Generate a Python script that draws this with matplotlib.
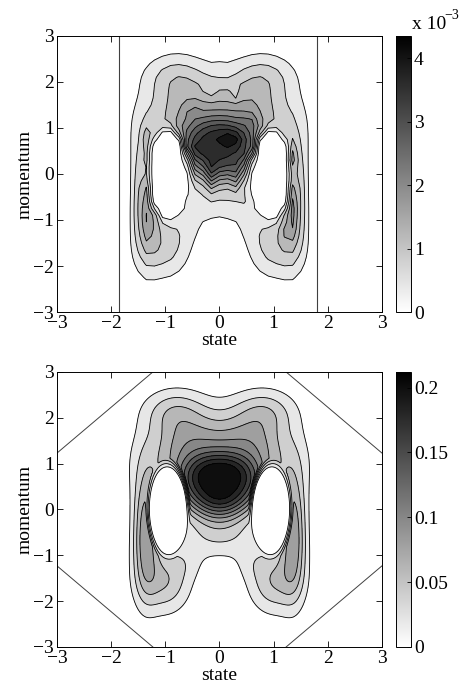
import numpy as np
import matplotlib.pyplot as plt
from matplotlib import cm, colors as mcolors

plt.rcParams['font.family'] = ['Liberation Serif', 'DejaVu Serif']
plt.rcParams['font.size'] = 14

# --- smooth density (lower panel): bumps ---
#          core  bodyL bodyR broad lobeL lobeR lower  armL   armR  footL footR band  kneeL kneeR
bump_x = [0.0, -0.55, 0.55, 0.0, -0.85, 0.85, 0.0, -1.37, 1.37, -1.02, 1.02, 0.0, -0.55, 0.55]
bump_y = [0.55, 1.3, 1.3, 1.0, 2.15, 2.15, -0.1, -0.45, -0.45, -1.55, -1.55, -0.78, -1.2, -1.2]
bump_sx = [0.6, 0.5, 0.5, 1.1, 0.4, 0.4, 0.45, 0.16, 0.16, 0.34, 0.34, 0.7, 0.2, 0.2]
bump_sy = [0.5, 0.6, 0.6, 0.6, 0.35, 0.35, 0.4, 0.9, 0.9, 0.5, 0.5, 0.27, 0.25, 0.25]
bump_w = [0.145, 0.072, 0.072, 0.03, 0.04, 0.04, 0.062, 0.09, 0.09, 0.06, 0.06, 0.02, 0.012, 0.012]
bump_p = [3, 2, 2, 2, 2, 2, 2, 2, 2, 2, 2, 2, 2, 2]

# white holes around the two wells
hole_x = [-0.95, 0.95]
hole_y = [0.0, 0.0]
hole_a = [0.32, 0.32]
hole_b = [0.86, 0.86]

# extra features of the sampled density (upper panel), in units of 1e-3
extra_x = [-0.4, 0.22, -0.15, 0.3, -1.3, 1.35, 1.35, 1.25, 0.55, 0.55,
           -0.2, 0.3, 0.0, 0.2, -0.5, -1.35, 0.45, -0.05]
extra_y = [0.55, 0.75, -0.05, -0.1, -1.0, 0.35, -0.8, -1.25, 0.45, 1.15,
           1.75, 1.7, 2.3, 2.2, 1.35, 0.8, -0.55, -0.75]
extra_sx = [0.12, 0.15, 0.06, 0.06, 0.1, 0.04, 0.04, 0.08, 0.07, 0.07,
            0.08, 0.08, 0.06, 0.06, 0.08, 0.04, 0.07, 0.06]
extra_sy = [0.12, 0.13, 0.25, 0.25, 0.35, 0.25, 0.3, 0.15, 0.08, 0.15,
            0.1, 0.1, 0.06, 0.06, 0.1, 0.2, 0.1, 0.1]
extra_w = [0.5, 0.6, 0.7, 0.6, 0.4, 0.5, 0.5, 0.4, 0.5, 0.5,
           -0.4, -0.4, 0.25, -0.25, 0.4, 0.4, 0.3, -0.2]

top_max = 4.35e-3
top_scale = 3.6e-3 / 0.21
top_levels = np.arange(1, 11) * 0.4e-3
bot_max = 0.212
bot_levels = np.arange(1, 11) * 0.02

wall_x = [-1.85, 1.8]
oct_x = [[-3, -1.23], [1.23, 3], [-3, -1.23], [1.23, 3]]
oct_y = [[1.23, 3], [3, 1.23], [-1.23, -3], [-3, -1.23]]


def density(X, Y, bx, by, bsx, bsy, bw, bp=None):
    if bp is None:
        bp = [2] * len(bx)
    Z = np.zeros_like(X)
    for cx, cy, sx, sy, w, p in zip(bx, by, bsx, bsy, bw, bp):
        r2 = ((X - cx) / sx) ** 2 + ((Y - cy) / sy) ** 2
        Z += w * np.exp(-0.5 * r2 ** (p / 2))
    return Z


def cut_holes(X, Y, Z):
    for hx, hy, a, b in zip(hole_x, hole_y, hole_a, hole_b):
        r = np.sqrt(((X - hx) / a) ** 2 + ((Y - hy) / b) ** 2)
        Z = Z * np.clip((r - 1) / 0.3, 0, 1)
    return Z


def band_colors(levels, vmax):
    cmap = plt.get_cmap('gray_r')
    return [cmap(l / vmax) for l in levels]


def style(ax):
    ax.set_xlim(-3, 3)
    ax.set_ylim(-3, 3)
    ax.set_xticks(range(-3, 4))
    ax.set_yticks(range(-3, 4))
    ax.tick_params(direction='in', top=True, right=True, length=4, width=0.6, pad=2)
    ax.set_xlabel('state', labelpad=0)
    ax.set_ylabel('momentum', labelpad=0)
    for s in ax.spines.values():
        s.set_linewidth(0.7)


def colorbar(fig, rect, vmax, ticks, labels):
    cax = fig.add_axes(rect)
    sm = cm.ScalarMappable(norm=mcolors.Normalize(0, vmax), cmap='gray_r')
    cb = fig.colorbar(sm, cax=cax)
    cb.set_ticks(ticks)
    cb.set_ticklabels(labels)
    cax.tick_params(direction='in', length=3, width=0.6, pad=2)
    cb.outline.set_linewidth(0.7)
    return cax


fig = plt.figure(figsize=(4.61, 6.85), dpi=100)

# upper panel: sampled density on a coarse grid
ax1 = fig.add_axes([0.1236, 0.5445, 0.705, 0.403])
gc = np.linspace(-3, 3, 41)
Xc, Yc = np.meshgrid(gc, gc)
Zt = density(Xc, Yc, bump_x, bump_y, bump_sx, bump_sy, bump_w, bump_p) * top_scale
Zt += density(Xc, Yc, extra_x, extra_y, extra_sx, extra_sy, extra_w) * 1e-3
Zt = np.clip(cut_holes(Xc, Yc, Zt), 0, None)
lv = list(top_levels) + [1.0]
ax1.contourf(Xc, Yc, Zt, levels=lv, colors=band_colors(top_levels, top_max))
ax1.contour(Xc, Yc, Zt, levels=top_levels, colors='k', linewidths=0.6)
for xw in wall_x:
    ax1.axvline(xw, color='#404040', lw=0.8)
style(ax1)
colorbar(fig, [0.859, 0.5445, 0.0325, 0.403], top_max,
         [0, 1e-3, 2e-3, 3e-3, 4e-3], ['0', '1', '2', '3', '4'])
fig.text(0.893, 0.952, 'x 10', ha='left', va='bottom')
fig.text(0.963, 0.968, '\u22123', ha='left', va='bottom', fontsize=10)

# lower panel: smooth density
ax2 = fig.add_axes([0.1236, 0.0555, 0.705, 0.4015])
g = np.linspace(-3, 3, 301)
X, Y = np.meshgrid(g, g)
Zb = cut_holes(X, Y, density(X, Y, bump_x, bump_y, bump_sx, bump_sy, bump_w, bump_p))
lv = list(bot_levels) + [1.0]
ax2.contourf(X, Y, Zb, levels=lv, colors=band_colors(bot_levels, bot_max))
ax2.contour(X, Y, Zb, levels=bot_levels, colors='k', linewidths=0.6)
for ox, oy in zip(oct_x, oct_y):
    ax2.plot(ox, oy, color='#404040', lw=0.7)
style(ax2)
colorbar(fig, [0.859, 0.0555, 0.0325, 0.4015], bot_max,
         [0, 0.05, 0.1, 0.15, 0.2], ['0', '0.05', '0.1', '0.15', '0.2'])

fig.savefig('out.png', dpi=100)
